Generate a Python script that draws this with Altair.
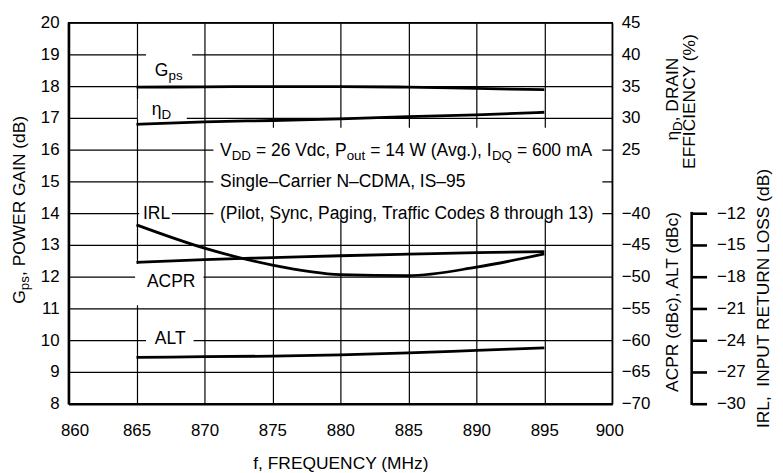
import altair as alt
import pandas as pd

# ---------------- data ----------------
freq = [865, 870, 875, 880, 885, 890, 895]
gps = [17.97, 17.98, 17.99, 17.99, 17.97, 17.93, 17.89]          # dB
eta_d = [29.0, 29.4, 29.6, 29.85, 30.2, 30.5, 30.9]              # %
acpr = [-47.75, -47.3, -47.0, -46.7, -46.45, -46.2, -46.05]      # dBc
alt_dbc = [-62.7, -62.6, -62.5, -62.3, -62.0, -61.6, -61.2]      # dBc
irl = [-13.1, -15.3, -16.9, -17.8, -17.9, -17.1, -15.85]         # dB

x_ticks = [860, 865, 870, 875, 880, 885, 890, 895, 900]
gain_ticks = [8, 9, 10, 11, 12, 13, 14, 15, 16, 17, 18, 19, 20]
eff_ticks = [25, 30, 35, 40, 45]
acpr_ticks = [-70, -65, -60, -55, -50, -45, -40]
irl_ticks = [-30, -27, -24, -21, -18, -15, -12]

gain_domain = [8, 20]
eff_domain = [-15, 45]
acpr_domain = [-70, -10]
irl_domain = [-30, 6]
irl_axis_lo = [-30]
irl_axis_hi = [-12]

# white backdrops behind the in-plot labels (frequency / gain units)
box_f1 = [865.7, 865.1, 865.2, 870.66, 864.9, 865.7]
box_f2 = [869.1, 868.7, 867.6, 899.27, 869.93, 869.2]
box_g1 = [18.1, 16.95, 13.75, 13.84, 11.1, 9.65]
box_g2 = [19.05, 17.6, 14.4, 16.69, 12.4, 10.4]

# ---------------- styling ----------------
FONT = "Liberation Sans, Arial, Helvetica, sans-serif"
W = {' ': 278, '\u00a0': 278, '(': 333, ')': 333, ',': 278, '.': 278, '=': 584,
     '%': 889, '\u2013': 556, '-': 333, '\u03b7': 556,
     'A': 667, 'B': 667, 'C': 722, 'D': 722, 'E': 667, 'F': 611, 'G': 778,
     'H': 722, 'I': 278, 'L': 556, 'M': 833, 'N': 722, 'O': 778, 'P': 667,
     'Q': 778, 'R': 722, 'S': 667, 'T': 611, 'U': 722, 'V': 667, 'W': 944,
     'Y': 667, 'a': 556, 'b': 556, 'c': 500, 'd': 556, 'e': 556, 'f': 278,
     'g': 556, 'h': 556, 'i': 222, 'l': 222, 'm': 833, 'n': 556, 'o': 556,
     'p': 556, 'r': 333, 's': 500, 't': 278, 'u': 556, 'v': 500, 'y': 500}


def tw(s, size):
    return sum(W.get(c, 556) for c in s) * size / 1000.0


def rich(pieces, x, y, angle=0, center=False):
    """pieces: list of (text, fontSize, dy). Returns list of text charts."""
    total = sum(tw(t, s) for t, s, _ in pieces)
    off = -total / 2 if center else 0
    out = []
    for txt, size, dy in pieces:
        stripped = txt.lstrip(' ')
        lead = tw(txt[:len(txt) - len(stripped)], size)
        t = stripped.replace(' ', '\u00a0')
        kw = dict(text=t, font=FONT, fontSize=size, align='left',
                  baseline='alphabetic', color='black', dx=off + lead)
        if angle:
            kw['angle'] = angle
        if dy:
            kw['dy'] = dy
        out.append(
            alt.Chart(alt.Data(values=[{}])).mark_text(**kw)
            .encode(x=alt.value(x), y=alt.value(y))
        )
        off += tw(txt, size)
    return out


LAB = 17
TIT = 17.5
ANN = 17.6
SUB = 13.5

x_scale = alt.Scale(domain=[860, 900], nice=False, zero=False)
x_axis = alt.Axis(values=x_ticks, grid=True, gridColor='black', gridWidth=1.2,
                  ticks=False, tickSize=0, labelPadding=19, labelFontSize=LAB,
                  labelFont=FONT, labelColor='black', labelFlush=False,
                  labelOffset={"expr": "datum.value == 860 ? 6 : (datum.value == 900 ? -3 : 0)"},
                  domainColor='black', domainWidth=2.5,
                  title='f, FREQUENCY (MHz)', titleFont=FONT, titleFontSize=TIT,
                  titleFontWeight='normal', titleColor='black',
                  titleBaseline='alphabetic', titleY=65, titleX=274,
                  titleAlign='center')


def X(field):
    return alt.X(field, scale=x_scale, axis=x_axis)


gain_scale = alt.Scale(domain=gain_domain, nice=False, zero=False)
gain_axis = alt.Axis(orient='left', values=gain_ticks, grid=True,
                     gridColor='black', gridWidth=1.2, ticks=False, tickSize=0,
                     labelPadding=9.5, labelFontSize=LAB, labelFont=FONT,
                     labelColor='black', domainColor='black', domainWidth=2.5,
                     title=None)

df = pd.DataFrame({'freq': freq, 'gps': gps, 'eta': eta_d, 'acpr': acpr,
                   'alt': alt_dbc, 'irl': irl})
boxes = pd.DataFrame({'f1': box_f1, 'f2': box_f2, 'g1': box_g1, 'g2': box_g2})

line_kw = dict(color='black', strokeWidth=2.8, interpolate='monotone')

box_chart = alt.Chart(boxes).mark_rect(color='white').encode(
    x=X('f1:Q'), x2='f2:Q',
    y=alt.Y('g1:Q', scale=gain_scale, axis=gain_axis), y2='g2:Q')
gps_chart = alt.Chart(df).mark_line(**line_kw).encode(
    x=X('freq:Q'), y=alt.Y('gps:Q', scale=gain_scale, axis=gain_axis))
gain_layer = alt.layer(box_chart, gps_chart)

right_common = dict(orient='right', grid=False, ticks=False, domain=False,
                    labelPadding=9, labelFontSize=LAB, labelFont=FONT,
                    labelColor='black', titleFont=FONT, titleFontSize=TIT,
                    titleFontWeight='normal', titleColor='black',
                    titleAngle=270, titleAlign='center',
                    titleBaseline='alphabetic')

eta_chart = alt.Chart(df).mark_line(**line_kw).encode(
    x=X('freq:Q'),
    y=alt.Y('eta:Q', scale=alt.Scale(domain=eff_domain, nice=False, zero=False),
            axis=alt.Axis(values=eff_ticks, title='EFFICIENCY (%)',
                          titleX=83, titleY=79, **right_common)))

acpr_chart = alt.Chart(df).transform_fold(['acpr', 'alt'], as_=['k', 'v']).mark_line(**line_kw).encode(
    x=X('freq:Q'),
    y=alt.Y('v:Q', scale=alt.Scale(domain=acpr_domain, nice=False, zero=False),
            axis=alt.Axis(values=acpr_ticks, title='ACPR (dBc), ALT (dBc)',
                          titleX=66, titleY=281, **right_common)),
    detail='k:N')

irl_scale = alt.Scale(domain=irl_domain, nice=False, zero=False)
irl_axis = alt.Axis(orient='right', offset=80, values=irl_ticks, grid=False,
                    ticks=True, tickSize=15, tickWidth=2.6, tickColor='black',
                    domain=False, labelPadding=10, labelFontSize=LAB,
                    labelFont=FONT, labelColor='black',
                    title='IRL,\u00a0 INPUT RETURN LOSS (dB)', titleFont=FONT,
                    titleFontSize=TIT, titleFontWeight='normal',
                    titleColor='black', titleAngle=270, titleAlign='center',
                    titleBaseline='alphabetic', titleX=77, titleY=277.5)
irl_line = alt.Chart(df).mark_line(**line_kw).encode(
    x=X('freq:Q'), y=alt.Y('irl:Q', scale=irl_scale, axis=irl_axis))
irl_spine = alt.Chart(pd.DataFrame({'lo': irl_axis_lo, 'hi': irl_axis_hi})).mark_rule(
    color='black', strokeWidth=2.6, strokeCap='square').encode(
    x=alt.value(628), y=alt.Y('lo:Q', scale=irl_scale, axis=irl_axis), y2='hi:Q')
irl_layer = alt.layer(irl_line, irl_spine)

# ---------------- texts ----------------
labels = []
# left axis title  G_ps, POWER GAIN (dB)
labels += rich([('G', TIT, 0), ('ps', SUB, 4.5), (', POWER GAIN (dB)', TIT, 0)],
               -44, 188.5, angle=270, center=True)
# eta title first line  eta_D, DRAIN
labels += rich([('\u03b7', TIT, 0), ('D', SUB, 4.5), (', DRAIN', TIT, 0)],
               614, 77, angle=270, center=True)
# curve labels
labels += rich([('G', ANN, 0), ('ps', SUB, 4)], 87, 54)
labels += rich([('\u03b7', ANN, 0), ('D', SUB, 4)], 84, 93)
labels += rich([('IRL', ANN, 0)], 75, 198)
labels += rich([('ACPR', ANN, 0)], 79, 266)
labels += rich([('ALT', ANN, 0)], 87, 324)
# conditions box
labels += rich([('V', ANN, 0), ('DD', SUB, 4), (' = 26 Vdc, P', ANN, 0),
                ('out', SUB, 4), (' = 14 W (Avg.), I', ANN, 0), ('DQ', SUB, 4),
                (' = 600 mA', ANN, 0)], 152.7, 134)
labels += rich([('Single\u2013Carrier N\u2013CDMA, IS\u201395', ANN, 0)], 152.7, 166)
labels += rich([('(Pilot, Sync, Paging, Traffic Codes 8 through 13)', ANN, 0)], 152.7, 198)

chart = alt.layer(gain_layer, eta_chart, acpr_chart, irl_layer, *labels).resolve_scale(
    y='independent'
).properties(
    width=548, height=384,
    autosize=alt.AutoSizeParams(type='none'),
    padding={'left': 61, 'top': 13, 'right': 164, 'bottom': 68},
).configure_view(stroke='black', strokeWidth=1.5)

chart.save("out.html", embed_options={"renderer": "svg", "actions": False})
